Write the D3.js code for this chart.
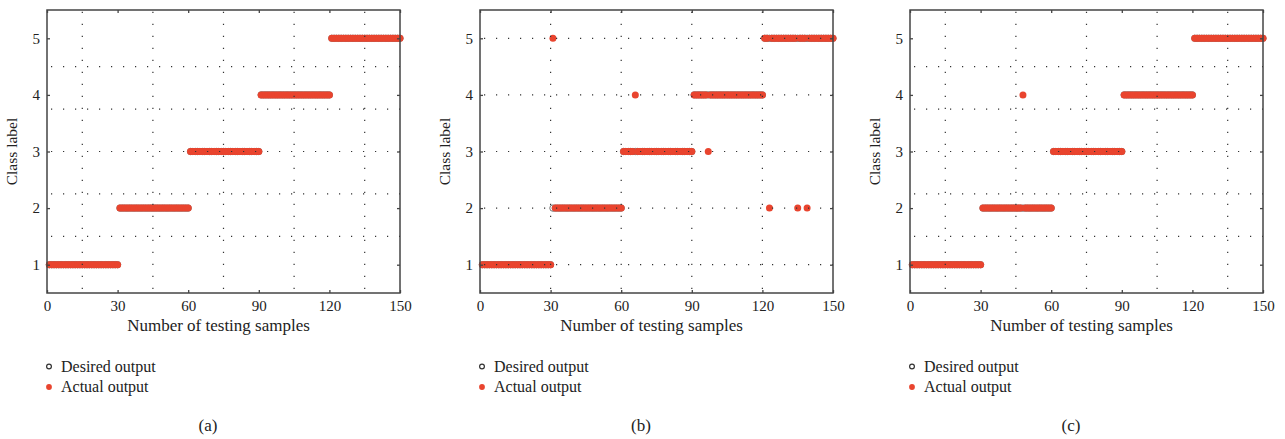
<!DOCTYPE html>
<html>
<head>
<meta charset="utf-8">
<script src="https://cdn.jsdelivr.net/npm/d3@7"></script>
<style>
  body { margin: 0; background: #fff; }
  svg { display: block; font-family: "Liberation Serif", "DejaVu Serif", serif; }
</style>
</head>
<body>
<svg id="chart" width="1285" height="439"></svg>
<script>
// Data: class label of each testing sample, 10 samples per string (150 total)
const DESIRED = [
  '1111111111', '1111111111', '1111111111',
  '2222222222', '2222222222', '2222222222',
  '3333333333', '3333333333', '3333333333',
  '4444444444', '4444444444', '4444444444',
  '5555555555', '5555555555', '5555555555'
]
const ACTUAL_A = DESIRED.slice()
const ACTUAL_B = [
  '1111111111', '1111111111', '1111111111',
  '5222222222', '2222222222', '2222222222',
  '3333343333', '3333333333', '3333333333',
  '4444443444', '4444444444', '4444444444',
  '5525555555', '5555255525', '5555555555'
]
const ACTUAL_C = [
  '1111111111', '1111111111', '1111111111',
  '2222222222', '2222222422', '2222222222',
  '3333333333', '3333333333', '3333333333',
  '4444444444', '4444444444', '4444444444',
  '5555555555', '5555555555', '5555555555'
]

const X_TICKS = [0, 30, 60, 90, 120, 150]
const Y_TICKS = [1, 2, 3, 4, 5]
// odd grid used in (a) and (c)
const GRID_X_AC = [15, 45, 75, 105, 135]
const GRID_Y_AC = [1.5, 2.25, 3, 3.75, 4.5]
// grid on ticks in (b)
const GRID_X_B = [30, 60, 90, 120]
const GRID_Y_B = [1, 2, 3, 4, 5]

const LEGEND_LABELS = ['Desired output', 'Actual output']
const CAPTIONS = ['(a)', '(b)', '(c)']

const RED = '#e9442e'

let svg = d3.select('#chart')

let toPoints = rows => rows.join('').split('').map((c, i) => ({ n: i + 1, c: +c }))

let panels = [
  { left: 47, actual: ACTUAL_A, gx: GRID_X_AC, gy: GRID_Y_AC, caption: CAPTIONS[0] },
  { left: 480, actual: ACTUAL_B, gx: GRID_X_B, gy: GRID_Y_B, caption: CAPTIONS[1] },
  { left: 910, actual: ACTUAL_C, gx: GRID_X_AC, gy: GRID_Y_AC, caption: CAPTIONS[2] }
]

const TOP = 10, W = 353, H = 283

let drawPanel = p => {
  let g = svg.append('g').attr('transform', `translate(${p.left}, ${TOP})`)
  let x = d3.scaleLinear().domain([0, 150]).range([0, W])
  let y = d3.scaleLinear().domain([0.5, 5.5]).range([H, 0])

  // desired output (open circles), then actual output on top
  g.append('g').selectAll('circle')
    .data(toPoints(DESIRED))
    .enter().append('circle')
    .attr('cx', d => x(d.n))
    .attr('cy', d => y(d.c))
    .attr('r', 3.2)
    .attr('fill', 'none')
    .attr('stroke', '#666')
    .attr('stroke-width', 0.9)

  g.append('g').selectAll('circle')
    .data(toPoints(p.actual))
    .enter().append('circle')
    .attr('cx', d => x(d.n))
    .attr('cy', d => y(d.c))
    .attr('r', 3.5)
    .attr('fill', RED)

  // dotted grid drawn over the markers
  let grid = g.append('g')
    .attr('stroke', '#333')
    .attr('stroke-width', 1.2)
    .attr('stroke-dasharray', '1.2,10.8')
  grid.selectAll('.gx').data(p.gx).enter().append('line')
    .attr('x1', d => x(d)).attr('x2', d => x(d))
    .attr('y1', H - 4).attr('y2', 0)
  grid.selectAll('.gy').data(p.gy).enter().append('line')
    .attr('y1', d => y(d)).attr('y2', d => y(d))
    .attr('x1', 4).attr('x2', W)

  // axes with inward ticks
  let bottom = g.append('g').attr('transform', `translate(0, ${H})`)
    .call(d3.axisBottom(x).tickValues(X_TICKS).tickSizeInner(-3).tickSizeOuter(0).tickPadding(7))
  let left = g.append('g')
    .call(d3.axisLeft(y).tickValues(Y_TICKS).tickFormat(d3.format('d'))
      .tickSizeInner(-3).tickSizeOuter(0).tickPadding(7))
  let top = g.append('g')
    .call(d3.axisTop(x).tickValues(X_TICKS).tickSizeInner(-3).tickSizeOuter(0).tickFormat(''))
  let right = g.append('g').attr('transform', `translate(${W}, 0)`)
    .call(d3.axisRight(y).tickValues(Y_TICKS).tickSizeInner(-3).tickSizeOuter(0).tickFormat(''))

  ;[bottom, left, top, right].forEach(a => {
    a.select('.domain').remove()
    a.selectAll('line').attr('stroke', '#444').attr('stroke-width', 1.3)
    a.selectAll('text')
      .attr('fill', '#222')
      .style('font-family', '"Liberation Serif", serif')
      .style('font-size', '15px')
  })

  g.append('rect')
    .attr('width', W).attr('height', H)
    .attr('fill', 'none')
    .attr('stroke', '#444')
    .attr('stroke-width', 1.5)

  // axis titles
  g.append('text')
    .attr('transform', `translate(-30, ${H / 2}) rotate(-90)`)
    .attr('text-anchor', 'middle')
    .attr('font-size', '15.5px')
    .attr('fill', '#222')
    .text('Class label')

  g.append('text')
    .attr('x', W / 2 - 5)
    .attr('y', 321)
    .attr('text-anchor', 'middle')
    .attr('font-size', '17px')
    .attr('fill', '#222')
    .text('Number of testing samples')

  // legend
  let legend = g.selectAll('.legend')
    .data(LEGEND_LABELS)
    .enter().append('g')
    .attr('transform', (d, i) => `translate(2, ${356.5 + i * 20.5})`)

  legend.append('circle')
    .attr('r', d => d === LEGEND_LABELS[0] ? 2.4 : 2.9)
    .attr('fill', d => d === LEGEND_LABELS[0] ? 'none' : RED)
    .attr('stroke', d => d === LEGEND_LABELS[0] ? '#333' : 'none')
    .attr('stroke-width', 1.2)

  legend.append('text')
    .attr('x', 12)
    .attr('y', 5)
    .attr('font-size', '16px')
    .attr('fill', '#222')
    .text(d => d)

  // caption
  g.append('text')
    .attr('x', 161)
    .attr('y', 421)
    .attr('text-anchor', 'middle')
    .attr('font-size', '17px')
    .attr('fill', '#222')
    .text(p.caption)
}

panels.forEach(drawPanel)
</script>
</body>
</html>
